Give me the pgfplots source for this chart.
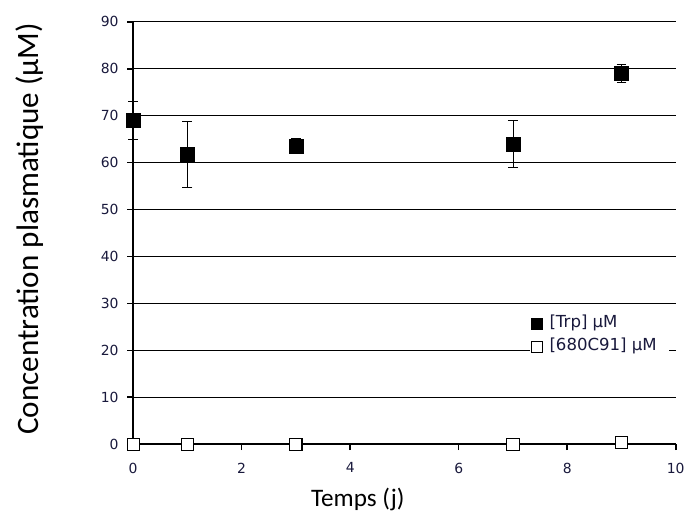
\documentclass[border=0pt]{standalone}
\usepackage{pgfplots}
\pgfplotsset{compat=1.18}
\usepackage{fontspec}
\setmainfont{DejaVu Sans}
\newfontfamily\calib{Carlito}
\definecolor{txt}{RGB}{25,25,60}

\begin{document}
\begin{tikzpicture}
\begin{axis}[
    scale only axis,
    width=409.5pt, height=318.75pt,
    xmin=0, xmax=10, ymin=0, ymax=90,
    axis x line*=bottom, axis y line*=left,
    axis line style={line width=1.5pt},
    xtick={0,2,...,10}, ytick={0,10,...,90},
    tick align=outside, major tick length=4.5pt,
    every tick/.style={black, line width=1.2pt},
    ymajorgrids, grid style={black, line width=0.7pt},
    ticklabel style={font=\fontsize{10.5}{12}\selectfont, text=txt},
    /pgf/number format/assume math mode=true,
    xticklabel style={yshift=-6pt},
    yticklabel style={xshift=-3pt},
    xlabel={\calib\fontsize{19}{22}\selectfont Temps (j)},
    ylabel={\calib\fontsize{23.5}{26}\selectfont Concentration plasmatique (µM)},
    xlabel style={at={(axis description cs:0.414,-0.132)}, anchor=center},
    ylabel style={at={(axis description cs:-0.19,0.51)}, anchor=center, rotate=0},
    clip=false,
    legend style={at={(0.7315,0.258)}, anchor=west, draw=none, fill=white,
        font=\fontsize{12.5}{13}\selectfont, text=txt, inner sep=0.5pt,
        row sep=2.25pt,
        nodes={text height=9pt, text depth=3pt, inner sep=1.5pt}},
    legend cell align=left,
    legend image code/.code={%
        \path[draw=none, fill=none] (0pt,0pt) rectangle (12.5pt,0.1pt);
        \draw[#1, mark size=4.1pt] plot coordinates {(4.3pt,0pt)};},
]
\addplot[only marks, mark=square*, mark size=5.25pt, color=black,
    error bars/.cd, y dir=both, y explicit,
    error bar style={line width=0.6pt},
    error mark options={rotate=90, mark size=3.75pt, line width=0.6pt}]
    coordinates {
    (0,69) +- (0,4)
    (1,61.7) +- (0,7)
    (3,63.5) +- (0,1.6)
    (7,64) +- (0,5)
    (9,79) +- (0,2)
};
\addlegendentry{[Trp] µM}
\addplot[only marks, mark=square*, mark size=4.6pt, mark options={fill=white, draw=black, line width=0.8pt}]
    coordinates {(0,0) (1,0) (3,0) (7,0) (9,0.4)};
\addlegendentry{[680C91] µM\hspace*{7pt}}
\path (axis cs:-2.454,-17.37) rectangle (axis cs:10.165,94.66);
\end{axis}
\end{tikzpicture}
\end{document}
